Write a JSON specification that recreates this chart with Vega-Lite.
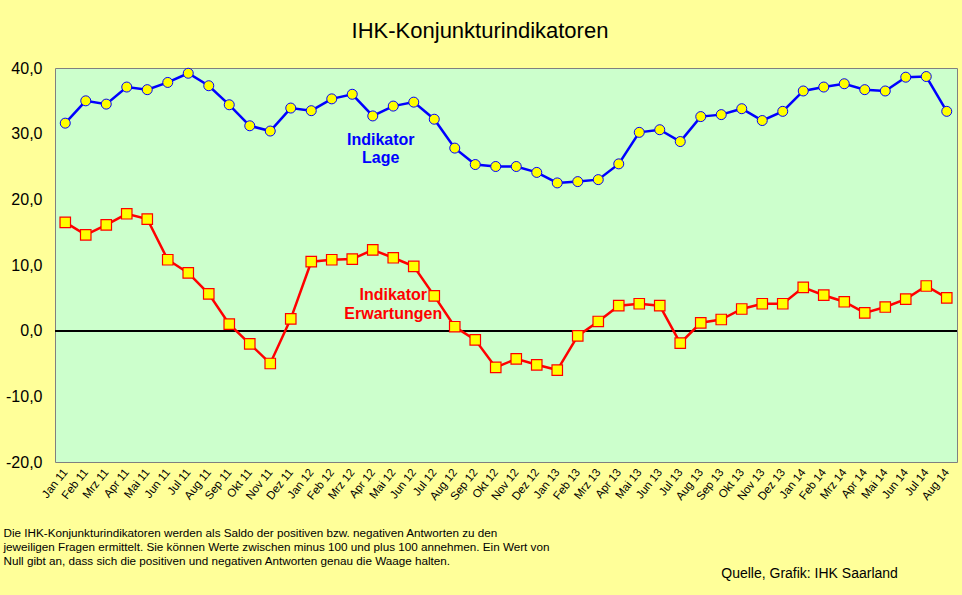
{
  "$schema": "https://vega.github.io/schema/vega-lite/v6.json",
  "autosize": {"type": "none"},
  "width": 902,
  "height": 394,
  "padding": {"left": 55, "top": 68, "right": 5, "bottom": 133},
  "background": "#FFFF99",
  "title": {
    "text": "IHK-Konjunkturindikatoren",
    "font": "Liberation Sans",
    "fontSize": 22,
    "fontWeight": "normal",
    "color": "#000000",
    "anchor": "middle",
    "dx": -26,
    "offset": 17
  },
  "config": {
    "font": "Liberation Sans",
    "view": {"fill": "#CCFFCC", "stroke": "#808080", "strokeWidth": 1}
  },
  "data": {
    "values": [
      {"monat": "Jan 11", "lage": 31.6, "erw": 16.5},
      {"monat": "Feb 11", "lage": 35.0, "erw": 14.6},
      {"monat": "Mrz 11", "lage": 34.5, "erw": 16.1},
      {"monat": "Apr 11", "lage": 37.1, "erw": 17.8},
      {"monat": "Mai 11", "lage": 36.7, "erw": 17.0},
      {"monat": "Jun 11", "lage": 37.8, "erw": 10.8},
      {"monat": "Jul 11", "lage": 39.2, "erw": 8.8},
      {"monat": "Aug 11", "lage": 37.3, "erw": 5.6},
      {"monat": "Sep 11", "lage": 34.4, "erw": 1.0},
      {"monat": "Okt 11", "lage": 31.2, "erw": -2.0},
      {"monat": "Nov 11", "lage": 30.4, "erw": -5.0},
      {"monat": "Dez 11", "lage": 33.9, "erw": 1.8},
      {"monat": "Jan 12", "lage": 33.5, "erw": 10.5},
      {"monat": "Feb 12", "lage": 35.3, "erw": 10.8},
      {"monat": "Mrz 12", "lage": 36.0, "erw": 10.9},
      {"monat": "Apr 12", "lage": 32.7, "erw": 12.3},
      {"monat": "Mai 12", "lage": 34.2, "erw": 11.1},
      {"monat": "Jun 12", "lage": 34.8, "erw": 9.8},
      {"monat": "Jul 12", "lage": 32.2, "erw": 5.3},
      {"monat": "Aug 12", "lage": 27.8, "erw": 0.6},
      {"monat": "Sep 12", "lage": 25.3, "erw": -1.4},
      {"monat": "Okt 12", "lage": 25.0, "erw": -5.6},
      {"monat": "Nov 12", "lage": 25.0, "erw": -4.3},
      {"monat": "Dez 12", "lage": 24.1, "erw": -5.2},
      {"monat": "Jan 13", "lage": 22.5, "erw": -6.0},
      {"monat": "Feb 13", "lage": 22.7, "erw": -0.8},
      {"monat": "Mrz 13", "lage": 23.0, "erw": 1.4},
      {"monat": "Apr 13", "lage": 25.4, "erw": 3.8},
      {"monat": "Mai 13", "lage": 30.2, "erw": 4.1},
      {"monat": "Jun 13", "lage": 30.6, "erw": 3.8},
      {"monat": "Jul 13", "lage": 28.8, "erw": -1.9},
      {"monat": "Aug 13", "lage": 32.6, "erw": 1.2},
      {"monat": "Sep 13", "lage": 32.9, "erw": 1.7},
      {"monat": "Okt 13", "lage": 33.8, "erw": 3.3},
      {"monat": "Nov 13", "lage": 32.0, "erw": 4.1},
      {"monat": "Dez 13", "lage": 33.4, "erw": 4.1},
      {"monat": "Jan 14", "lage": 36.5, "erw": 6.6},
      {"monat": "Feb 14", "lage": 37.1, "erw": 5.4},
      {"monat": "Mrz 14", "lage": 37.6, "erw": 4.4},
      {"monat": "Apr 14", "lage": 36.7, "erw": 2.7},
      {"monat": "Mai 14", "lage": 36.5, "erw": 3.6},
      {"monat": "Jun 14", "lage": 38.6, "erw": 4.8},
      {"monat": "Jul 14", "lage": 38.7, "erw": 6.8},
      {"monat": "Aug 14", "lage": 33.4, "erw": 5.0}
    ]
  },
  "encoding": {
    "x": {
      "field": "monat",
      "type": "ordinal",
      "sort": null,
      "scale": {"type": "point", "padding": 0.5},
      "axis": {
        "domain": false,
        "ticks": false,
        "labelAngle": -52,
        "labelFontSize": 11.5,
        "labelColor": "#000000",
        "labelPadding": 8,
        "title": [
          "Die IHK-Konjunkturindikatoren werden als Saldo der positiven bzw. negativen Antworten zu den",
          "jeweiligen Fragen ermittelt. Sie können Werte zwischen minus 100 und plus 100 annehmen. Ein Wert von",
          "Null gibt an, dass sich die positiven und negativen Antworten genau die Waage halten."
        ],
        "titleFontSize": 11.7,
        "titleFontWeight": "normal",
        "titleColor": "#000000",
        "titleLineHeight": 14,
        "titleAnchor": "start",
        "titleAlign": "left",
        "titleBaseline": "top",
        "titleX": -52,
        "titleY": 65
      }
    }
  },
  "layer": [
    {
      "mark": {"type": "rule", "color": "#000000", "strokeWidth": 1},
      "encoding": {"y": {"datum": 0, "type": "quantitative"}, "x": null}
    },
    {
      "mark": {"type": "line", "color": "#0000FF", "strokeWidth": 2.5},
      "encoding": {
        "y": {
          "field": "lage",
          "type": "quantitative",
          "scale": {"domain": [-20, 40], "nice": false},
          "axis": {
            "values": [-20, -10, 0, 10, 20, 30, 40],
            "labelExpr": "replace(replace(format(datum.value, '.1f'), '.', ','), '\u2212', '-')",
            "domain": false,
            "ticks": false,
            "grid": false,
            "labelFontSize": 16,
            "labelColor": "#000000",
            "labelPadding": 13,
            "title": null
          }
        }
      }
    },
    {
      "mark": {"type": "point", "shape": "circle", "filled": true, "fill": "#FFFF00", "stroke": "#0000FF", "strokeWidth": 1, "size": 100, "opacity": 1},
      "encoding": {"y": {"field": "lage", "type": "quantitative"}}
    },
    {
      "mark": {"type": "line", "color": "#FF0000", "strokeWidth": 2.5},
      "encoding": {"y": {"field": "erw", "type": "quantitative"}}
    },
    {
      "mark": {"type": "point", "shape": "square", "filled": true, "fill": "#FFFF00", "stroke": "#FF0000", "strokeWidth": 1.2, "size": 110, "opacity": 1},
      "encoding": {"y": {"field": "erw", "type": "quantitative"}}
    },
    {
      "data": {"values": [{}]},
      "mark": {"type": "text", "text": ["Indikator", "Lage"], "color": "#0000FF", "fontSize": 16, "fontWeight": "bold", "lineHeight": 18, "align": "center", "baseline": "middle", "dx": 8},
      "encoding": {
        "x": {"datum": "Apr 12"},
        "y": {"datum": 29.0, "type": "quantitative"}
      }
    },
    {
      "data": {"values": [{}]},
      "mark": {"type": "text", "text": ["Indikator", "Erwartungen"], "color": "#FF0000", "fontSize": 16, "fontWeight": "bold", "lineHeight": 19, "align": "center", "baseline": "middle"},
      "encoding": {
        "x": {"datum": "Mai 12"},
        "y": {"datum": 5.4, "type": "quantitative"}
      }
    },
    {
      "data": {"values": [{}]},
      "mark": {"type": "text", "text": "Quelle, Grafik: IHK  Saarland", "color": "#000000", "fontSize": 14, "align": "left", "baseline": "middle"},
      "encoding": {
        "x": {"datum": "Sep 13"},
        "y": {"datum": -37, "type": "quantitative"}
      }
    }
  ]
}
